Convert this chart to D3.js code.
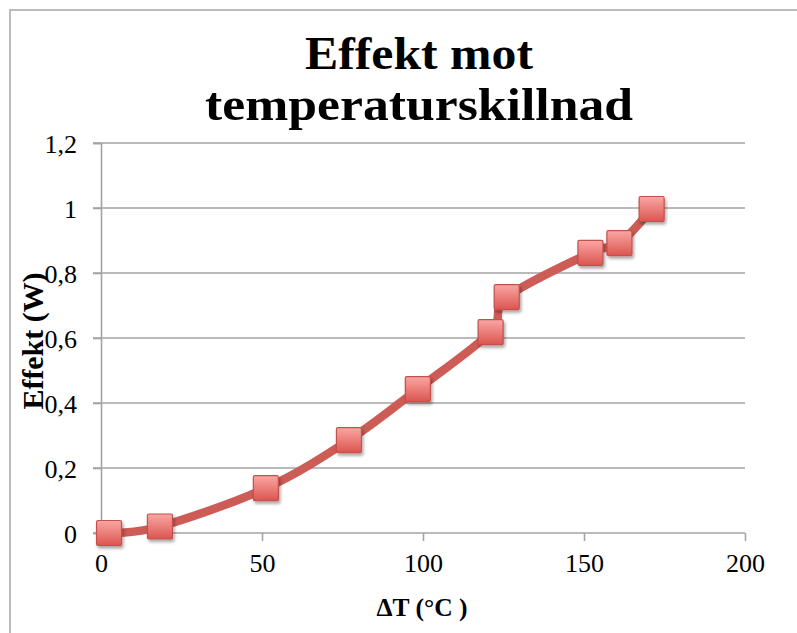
<!DOCTYPE html>
<html>
<head>
<meta charset="utf-8">
<script src="https://cdn.jsdelivr.net/npm/d3@7"></script>
<style>
  body { margin: 0; background: #fff; }
  svg { display: block; }
  text { font-family: "Liberation Serif", "DejaVu Serif", serif; }
</style>
</head>
<body>
<script>
const width = 797,
      height = 633;

// values
const deltaT = [2.5, 18.3, 51.2, 77, 98.4, 121, 126, 152, 161, 171];
const effekt = [0, 0.02, 0.138, 0.286, 0.443, 0.618, 0.726, 0.862, 0.892, 0.997];
const xTicks = [0, 50, 100, 150, 200];
const yTicks = [0, 0.2, 0.4, 0.6, 0.8, 1, 1.2];
const titleLines = ["Effekt mot", "temperaturskillnad"];
const xName = "ΔT (°C )",
      yName = "Effekt (W)";

const points = deltaT.map(function (d, i) { return {x: d, y: effekt[i]}; });

const svg = d3.select("body")
    .append("svg")
    .attr("width", width)
    .attr("height", height);

const defs = svg.append("defs");
const grad = defs.append("linearGradient")
    .attr("id", "mk")
    .attr("x1", 0).attr("y1", 0).attr("x2", 0).attr("y2", 1);
grad.append("stop").attr("offset", "0%").attr("stop-color", "#f9a7a4");
grad.append("stop").attr("offset", "100%").attr("stop-color", "#dc5550");

const shadow = defs.append("filter")
    .attr("id", "shadow")
    .attr("x", "-30%").attr("y", "-30%")
    .attr("width", "170%").attr("height", "170%");
shadow.append("feDropShadow")
    .attr("dx", 1.5).attr("dy", 2.5)
    .attr("stdDeviation", 1.8)
    .attr("flood-color", "#000")
    .attr("flood-opacity", 0.35);

// outer frame (cut off at right and bottom)
svg.append("rect")
    .attr("x", 10).attr("y", 10)
    .attr("width", 820).attr("height", 660)
    .attr("fill", "none")
    .attr("stroke", "#a6a6a6")
    .attr("stroke-width", 1.5);

let x = d3.scaleLinear().domain([0, 200]).range([101, 745]);
let y = d3.scaleLinear().domain([0, 1.2]).range([533, 143]);

const fmt = function (d) { return d3.format("~g")(+d.toFixed(1)).replace(".", ","); };

// horizontal gridlines
svg.append("g")
    .selectAll("line")
    .data(yTicks)
    .enter().append("line")
    .attr("x1", x(0) - 8)
    .attr("x2", x(200))
    .attr("y1", function (d) { return y(d); })
    .attr("y2", function (d) { return y(d); })
    .attr("stroke", "#a3a3a3")
    .attr("stroke-width", 1.6);

let yAxis = d3.axisLeft(y).tickValues(yTicks).tickSize(8).tickPadding(16).tickFormat(fmt);
let xAxis = d3.axisBottom(x).tickValues(xTicks).tickSize(8).tickPadding(13);

const gy = svg.append("g")
    .attr("class", "y axis")
    .attr("transform", "translate(" + x(0) + ",0)")
    .call(yAxis);

const gx = svg.append("g")
    .attr("class", "x axis")
    .attr("transform", "translate(0," + y(0) + ")")
    .call(xAxis);

[gx, gy].forEach(function (g) {
    g.select(".domain").attr("stroke", "#a3a3a3").attr("stroke-width", 1.6);
    g.selectAll(".tick line").attr("stroke", "#a3a3a3").attr("stroke-width", 1.6);
    g.selectAll(".tick text")
        .attr("fill", "#000")
        .style("font-family", "'Liberation Serif', serif")
        .style("font-size", "26px");
});
gx.select(".domain").remove();
gy.selectAll(".tick text").attr("dy", "0.35em");

let line = d3.line()
    .x(function (d) { return x(d.x); })
    .y(function (d) { return y(d.y); })
    .curve(d3.curveCatmullRom.alpha(0));

svg.append("path")
    .attr("d", line(points))
    .attr("fill", "none")
    .attr("stroke", "#cd5b56")
    .attr("stroke-width", 8.5)
    .attr("stroke-linejoin", "round")
    .attr("stroke-linecap", "round");

const ms = 25;
svg.selectAll(".dot")
    .data(points)
    .enter().append("rect")
    .attr("class", "dot")
    .attr("x", function (d) { return x(d.x) - ms / 2; })
    .attr("y", function (d) { return y(d.y) - ms / 2; })
    .attr("width", ms)
    .attr("height", ms)
    .attr("rx", 1.5)
    .attr("fill", "url(#mk)")
    .attr("stroke", "#c4504b")
    .attr("stroke-width", 1.2)
    .attr("filter", "url(#shadow)");

// title, one text wrapped on two lines
const title = svg.append("text")
    .attr("class", "title")
    .attr("text-anchor", "middle")
    .style("font-size", "46px")
    .style("font-weight", "bold");

title.selectAll("tspan")
    .data(titleLines)
    .enter().append("tspan")
    .attr("x", 419)
    .attr("y", function (d, i) { return 69 + i * 51; })
    .attr("textLength", function (d, i) { return i === 0 ? 228 : 428; })
    .attr("lengthAdjust", "spacingAndGlyphs")
    .text(function (d) { return d; });

svg.append("text")
    .attr("text-anchor", "middle")
    .attr("transform", "translate(43,341)rotate(-90)")
    .style("font-size", "30px")
    .style("font-weight", "bold")
    .attr("textLength", 137)
    .attr("lengthAdjust", "spacingAndGlyphs")
    .text(yName);

svg.append("text")
    .attr("text-anchor", "middle")
    .attr("x", 422)
    .attr("y", 616)
    .style("font-size", "25px")
    .style("font-weight", "bold")
    .attr("textLength", 91)
    .attr("lengthAdjust", "spacingAndGlyphs")
    .text(xName);
</script>
</body>
</html>
